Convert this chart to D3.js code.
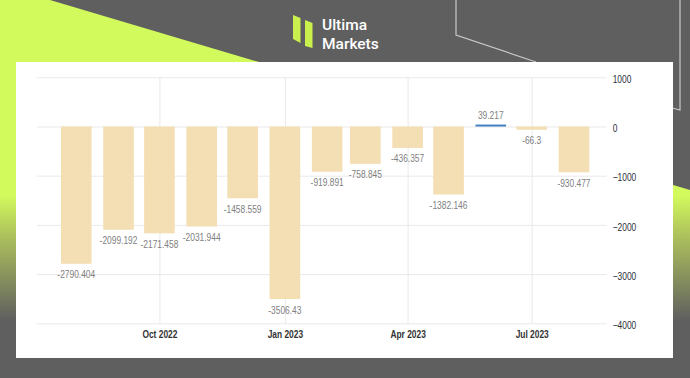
<!DOCTYPE html>
<html>
<head>
<meta charset="utf-8">
<script src="https://cdn.jsdelivr.net/npm/d3@7"></script>
<style>
  html, body { margin: 0; padding: 0; background: #5f5f5f; }
  svg { display: block; }
</style>
</head>
<body>
<svg id="chart" width="690" height="378"></svg>
<script>
// Monthly values (Aug 2022 - Aug 2023)
const months = ["2022-08", "2022-09", "2022-10", "2022-11", "2022-12", "2023-01", "2023-02",
                "2023-03", "2023-04", "2023-05", "2023-06", "2023-07", "2023-08"];
const values = [-2790.404, -2099.192, -2171.458, -2031.944, -1458.559, -3506.43, -919.891,
                -758.845, -436.357, -1382.146, 39.217, -66.3, -930.477];
const yTicks = [1000, 0, -1000, -2000, -3000, -4000];
const xTickMonths = ["2022-10", "2023-01", "2023-04", "2023-07"];
const xTickLabels = ["Oct 2022", "Jan 2023", "Apr 2023", "Jul 2023"];

const parseMonth = d3.timeParse("%Y-%m");
const svg = d3.select("#chart");
const W = 690, H = 378;
const squeeze = 0.8; // text in the picture is horizontally narrow

// ---- background ----
const defs = svg.append("defs");
const grad = defs.append("linearGradient")
    .attr("id", "lime")
    .attr("gradientUnits", "userSpaceOnUse")
    .attr("x1", 0).attr("y1", 0).attr("x2", 0).attr("y2", H);
grad.append("stop").attr("offset", 195 / H).attr("stop-color", "#d3fa5d");
grad.append("stop").attr("offset", 235 / H).attr("stop-color", "#aec25c");
grad.append("stop").attr("offset", 320 / H).attr("stop-color", "#5f5f5f");

svg.append("rect").attr("width", W).attr("height", H).attr("fill", "#5f5f5f");
svg.append("polygon")
    .attr("points", "0,0 50,0 690,190 690,378 0,378")
    .attr("fill", "url(#lime)");

// thin white decoration lines
svg.append("polyline")
    .attr("points", "456,0 456,35 536,62")
    .attr("fill", "none").attr("stroke", "#c8c8c8").attr("stroke-width", 1.2);
svg.append("polyline")
    .attr("points", "680,0 680,110 672,108")
    .attr("fill", "none").attr("stroke", "#c8c8c8").attr("stroke-width", 1.2);

// ---- logo ----
const logo = svg.append("g");
logo.append("polygon").attr("points", "293,15 300.5,18 300.5,43 293,39").attr("fill", "#c9f04d");
logo.append("polygon").attr("points", "305,20 312.5,23 312.5,48 305,46").attr("fill", "#c9f04d");
logo.append("text").attr("x", 322).attr("y", 30)
    .attr("font-family", "Roboto, 'Liberation Sans', sans-serif").attr("font-weight", 500)
    .attr("font-size", 15.5).attr("fill", "#ffffff").text("Ultima");
logo.append("text").attr("x", 322).attr("y", 48.5)
    .attr("font-family", "Roboto, 'Liberation Sans', sans-serif").attr("font-weight", 500)
    .attr("font-size", 15.5).attr("fill", "#ffffff").text("Markets");

// ---- card ----
svg.append("rect")
    .attr("x", 16).attr("y", 62).attr("width", 657).attr("height", 296)
    .attr("fill", "#ffffff");

// ---- scales ----
const x = d3.scaleTime()
    .domain([new Date(2022, 6, 3), new Date(2023, 7, 25)])
    .range([36.7, 606.7]);
const y = d3.scaleLinear()
    .domain([-4000, 1000])
    .range([323.3, 77.3]);
const barHalf = 15.3;

const font = "'Liberation Sans', Arial, sans-serif";

// ---- y axis (right) with gridlines ----
const yAxis = svg.append("g")
    .attr("transform", `translate(${x.range()[1]},0)`)
    .call(d3.axisRight(y)
        .tickValues(yTicks)
        .tickSize(-(x.range()[1] - x.range()[0]))
        .tickPadding(6)
        .tickFormat(d3.format("d")));
yAxis.select(".domain").remove();
yAxis.selectAll(".tick line").attr("stroke", "#e9e9e9");
yAxis.selectAll(".tick text")
    .attr("x", 6 / squeeze)
    .attr("dy", "0.5em")
    .attr("transform", `scale(${squeeze},1)`)
    .attr("font-family", font)
    .attr("font-size", 10.5)
    .attr("fill", "#2e2e3a");

// ---- x axis with vertical gridlines ----
const xAxis = svg.append("g")
    .attr("transform", `translate(0,${y(-4000)})`)
    .call(d3.axisBottom(x)
        .tickValues(xTickMonths.map(parseMonth))
        .tickSize(-(y(-4000) - y(1000)))
        .tickPadding(7)
        .tickFormat((d, i) => xTickLabels[i]));
xAxis.select(".domain").remove();
xAxis.selectAll(".tick line").attr("stroke", "#e9e9e9");
xAxis.selectAll(".tick text")
    .attr("transform", `scale(${squeeze},1)`)
    .attr("font-family", font)
    .attr("font-weight", "bold")
    .attr("font-size", 10.5)
    .attr("fill", "#333333");

// ---- bars ----
const data = months.map((m, i) => ({ date: parseMonth(m), value: values[i] }));

svg.append("g").selectAll("rect")
    .data(data)
    .join("rect")
    .attr("x", d => x(d.date) - barHalf)
    .attr("width", barHalf * 2)
    .attr("y", d => y(Math.max(0, d.value)))
    .attr("height", d => Math.abs(y(d.value) - y(0)))
    .attr("fill", d => d.value >= 0 ? "#3f7fc0" : "#f4deb4");

// ---- value labels ----
svg.append("g").selectAll("text")
    .data(data)
    .join("text")
    .attr("transform", d => {
        const ty = d.value >= 0 ? y(d.value) - 6 : y(d.value) + 14.5;
        return `translate(${x(d.date)},${ty}) scale(${squeeze},1)`;
    })
    .attr("text-anchor", "middle")
    .attr("font-family", font)
    .attr("font-size", 10.5)
    .attr("fill", "#808080")
    .text(d => d.value);
</script>
</body>
</html>
